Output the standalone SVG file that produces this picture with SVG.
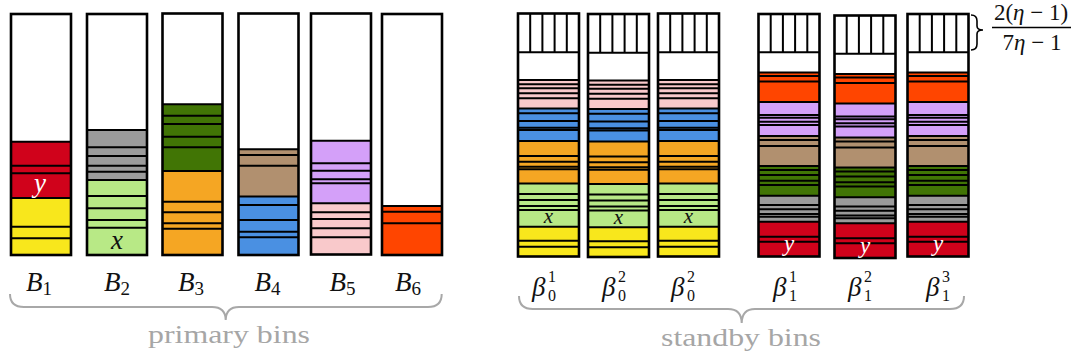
<svg xmlns="http://www.w3.org/2000/svg" xmlns:xlink="http://www.w3.org/1999/xlink" width="1080" height="361" viewBox="0 0 1080 361">
  <style>
    .frame{fill:none;stroke:#000;stroke-width:2.6}
    .sep{fill:none;stroke:#000;stroke-width:2}
    .hatch{fill:none;stroke:#000;stroke-width:2}
    .red{fill:#D0021B}
    .yellow{fill:#F8E71C}
    .lgreen{fill:#B8E986}
    .gray{fill:#9B9B9B}
    .dgreen{fill:#417505}
    .orange{fill:#F5A623}
    .brown{fill:#B1906F}
    .blue{fill:#4A90E2}
    .purple{fill:#D4A0F9}
    .pink{fill:#F9C9CB}
    .ored{fill:#FF4500}
    .white{fill:#fff}
    .math{font-family:"Liberation Serif","DejaVu Serif",serif;font-style:italic;fill:#111}
    .num{font-family:"Liberation Serif","DejaVu Serif",serif;font-style:normal;fill:#111}
    .item{font-family:"Liberation Serif","DejaVu Serif",serif;font-style:italic;text-anchor:middle}
    .note{font-family:"Liberation Serif","DejaVu Serif",serif;fill:#a6a6a6;font-size:26px;text-anchor:middle}
    .brace{fill:none;stroke:#a8a8a8;stroke-width:2}
  </style>
  <defs>
    <!-- standby bin of level 0: reserved slots on top, then the mirrored contents -->
    <g id="standby0">
      <rect class="white" x="0" y="13.5" width="61" height="243"/>
      <path class="hatch" d="M12.2,13.5V52.3M24.4,13.5V52.3M36.6,13.5V52.3M48.8,13.5V52.3M0,52.3h61"/>
      <rect class="pink" x="0" y="80" width="61" height="28"/>
      <rect class="blue" x="0" y="108" width="61" height="33"/>
      <rect class="orange" x="0" y="141" width="61" height="42.5"/>
      <rect class="lgreen" x="0" y="183.5" width="61" height="43.2"/>
      <rect class="yellow" x="0" y="226.7" width="61" height="29.8"/>
      <path class="sep" d="M0,80h61M0,84.3h61M0,88.3h61M0,93.3h61M0,98.3h61M0,108.5h61M0,113.3h61M0,121h61M0,127.7h61M0,130h61M0,141h61M0,156h61M0,161.7h61M0,166.7h61M0,169.3h61M0,183.5h61M0,194h61M0,200h61M0,206h61M0,210h61M0,226.7h61M0,240.7h61M0,246.7h61"/>
      <rect class="frame" x="0" y="13.5" width="61" height="243"/>
      <text class="item" x="30.5" y="223" font-size="21" fill="#111">x</text>
    </g>
    <!-- standby bin of level 1 -->
    <g id="standby1">
      <rect class="white" x="0" y="14" width="61" height="242.5"/>
      <path class="hatch" d="M12.2,14V52.3M24.4,14V52.3M36.6,14V52.3M48.8,14V52.3M0,52.3h61"/>
      <rect class="ored" x="0" y="72.5" width="61" height="29.5"/>
      <rect class="purple" x="0" y="102" width="61" height="34"/>
      <rect class="brown" x="0" y="136" width="61" height="30"/>
      <rect class="dgreen" x="0" y="166" width="61" height="29.7"/>
      <rect class="gray" x="0" y="195.7" width="61" height="26"/>
      <rect class="red" x="0" y="221.7" width="61" height="34.8"/>
      <path class="sep" d="M0,72.5h61M0,76h61M0,81.5h61M0,102h61M0,115h61M0,117.7h61M0,121.7h61M0,125h61M0,136h61M0,140h61M0,146h61M0,166h61M0,170h61M0,175h61M0,180.7h61M0,185h61M0,195.7h61M0,205h61M0,209.3h61M0,214h61M0,216.7h61M0,221.7h61M0,236.7h61M0,241.7h61"/>
      <rect class="frame" x="0" y="14" width="61" height="242.5"/>
      <text class="item" x="30.5" y="251" font-size="23" fill="#fff">y</text>
    </g>
  </defs>

  <!-- primary bins -->
  <g id="B1">
    <rect class="white" x="11" y="14" width="60" height="241"/>
    <rect class="red" x="11" y="141.7" width="60" height="56.3"/>
    <rect class="yellow" x="11" y="198" width="60" height="57"/>
    <path class="sep" d="M11,141.7h60M11,165.7h60M11,173.3h60M11,198h60M11,226.7h60M11,238.3h60"/>
    <rect class="frame" x="11" y="14" width="60" height="241"/>
    <text class="item" x="40" y="192" font-size="27" fill="#fff">y</text>
  </g>
  <g id="B2">
    <rect class="white" x="87" y="14" width="60" height="241"/>
    <rect class="gray" x="87" y="130" width="60" height="50"/>
    <rect class="lgreen" x="87" y="180" width="60" height="75"/>
    <path class="sep" d="M87,130h60M87,147.3h60M87,156h60M87,165.7h60M87,171.7h60M87,180h60M87,196h60M87,208.3h60M87,220h60M87,227.7h60"/>
    <rect class="frame" x="87" y="14" width="60" height="241"/>
    <text class="item" x="117" y="249" font-size="27" fill="#111">x</text>
  </g>
  <g id="B3">
    <rect class="white" x="162.5" y="13.5" width="60" height="241.5"/>
    <rect class="dgreen" x="162.5" y="104.3" width="60" height="66.7"/>
    <rect class="orange" x="162.5" y="171" width="60" height="84"/>
    <path class="sep" d="M162.5,104.3h60M162.5,115.7h60M162.5,124h60M162.5,136.7h60M162.5,147.3h60M162.5,171h60M162.5,201.7h60M162.5,212.3h60M162.5,223.3h60M162.5,228.7h60"/>
    <rect class="frame" x="162.5" y="13.5" width="60" height="241.5"/>
  </g>
  <g id="B4">
    <rect class="white" x="238.5" y="13.5" width="60" height="241.5"/>
    <rect class="brown" x="238.5" y="149.3" width="60" height="46.7"/>
    <rect class="blue" x="238.5" y="196" width="60" height="59"/>
    <path class="sep" d="M238.5,149.3h60M238.5,155h60M238.5,165.7h60M238.5,196.5h60M238.5,205h60M238.5,220h60M238.5,231.7h60M238.5,237.3h60"/>
    <rect class="frame" x="238.5" y="13.5" width="60" height="241.5"/>
  </g>
  <g id="B5">
    <rect class="white" x="311" y="13.5" width="60" height="241"/>
    <rect class="purple" x="311" y="140.7" width="60" height="62.6"/>
    <rect class="pink" x="311" y="203.3" width="60" height="51.2"/>
    <path class="sep" d="M311,140.7h60M311,163.3h60M311,170.7h60M311,179.3h60M311,183.3h60M311,203.3h60M311,212.3h60M311,219h60M311,228.3h60M311,237.3h60"/>
    <rect class="frame" x="311" y="13.5" width="60" height="241"/>
  </g>
  <g id="B6">
    <rect class="white" x="382" y="14" width="60" height="241"/>
    <rect class="ored" x="382" y="206" width="60" height="49"/>
    <path class="sep" d="M382,206h60M382,211.7h60M382,223.3h60"/>
    <rect class="frame" x="382" y="14" width="60" height="241"/>
  </g>

  <!-- standby bins -->
  <g id="beta0-1" transform="translate(518,0)"><use xlink:href="#standby0" href="#standby0"/></g>
  <g id="beta0-2" transform="translate(588,0.5)"><use xlink:href="#standby0" href="#standby0"/></g>
  <g id="beta0-3" transform="translate(658,0)"><use xlink:href="#standby0" href="#standby0"/></g>
  <g id="beta1-1" transform="translate(758.5,0)"><use xlink:href="#standby1" href="#standby1"/></g>
  <g id="beta1-2" transform="translate(834.5,1.5)"><use xlink:href="#standby1" href="#standby1"/></g>
  <g id="beta1-3" transform="translate(907.5,0)"><use xlink:href="#standby1" href="#standby1"/></g>

  <!-- reserved fraction of a standby bin -->
  <g id="reserve-note">
    <path d="M971,15Q977,15 977,21L977,26Q977,30 983,30Q977,30 977,34L977,44Q977,50 971,50" fill="none" stroke="#000" stroke-width="1.6"/>
    <text class="num" x="1031" y="20" font-size="23" text-anchor="middle">2(<tspan font-style="italic">η</tspan> − 1)</text>
    <line x1="992" y1="27.5" x2="1071" y2="27.5" stroke="#000" stroke-width="1.3"/>
    <text class="num" x="1032" y="50" font-size="23" text-anchor="middle">7<tspan font-style="italic">η</tspan> − 1</text>
  </g>

  <!-- bin labels -->
  <g id="labels" font-size="27">
    <text class="math" x="39" y="291" text-anchor="middle">B<tspan class="num" font-size="19" dy="4">1</tspan></text>
    <text class="math" x="117" y="291" text-anchor="middle">B<tspan class="num" font-size="19" dy="4">2</tspan></text>
    <text class="math" x="191" y="291" text-anchor="middle">B<tspan class="num" font-size="19" dy="4">3</tspan></text>
    <text class="math" x="267.5" y="291" text-anchor="middle">B<tspan class="num" font-size="19" dy="4">4</tspan></text>
    <text class="math" x="342.5" y="291" text-anchor="middle">B<tspan class="num" font-size="19" dy="4">5</tspan></text>
    <text class="math" x="408" y="291" text-anchor="middle">B<tspan class="num" font-size="19" dy="4">6</tspan></text>

    <text class="math" x="532" y="296">β</text><text class="num" x="548" y="282" font-size="16">1</text><text class="num" x="548" y="301" font-size="16">0</text>
    <text class="math" x="602" y="296">β</text><text class="num" x="618" y="282" font-size="16">2</text><text class="num" x="618" y="301" font-size="16">0</text>
    <text class="math" x="671" y="296">β</text><text class="num" x="687" y="282" font-size="16">2</text><text class="num" x="687" y="301" font-size="16">0</text>
    <text class="math" x="773" y="296">β</text><text class="num" x="789" y="282" font-size="16">1</text><text class="num" x="789" y="301" font-size="16">1</text>
    <text class="math" x="848" y="296">β</text><text class="num" x="864" y="282" font-size="16">2</text><text class="num" x="864" y="301" font-size="16">1</text>
    <text class="math" x="926" y="296">β</text><text class="num" x="942" y="282" font-size="16">3</text><text class="num" x="942" y="301" font-size="16">1</text>
  </g>

  <!-- group braces -->
  <g id="braces">
    <path class="brace" d="M10,294Q10,307 24,307L212,307Q225.5,307 225.7,320Q226,307 239,307L428,307Q441.7,307 441.7,294"/>
    <path class="brace" d="M519,296Q519,309 533,309L728,309Q741.5,309 741.7,323Q742,309 755,309L950,309Q964,309 964,296"/>
    <text class="note" x="229" y="343" textLength="162" lengthAdjust="spacingAndGlyphs">primary bins</text>
    <text class="note" x="741" y="346" textLength="160" lengthAdjust="spacingAndGlyphs">standby bins</text>
  </g>
</svg>
